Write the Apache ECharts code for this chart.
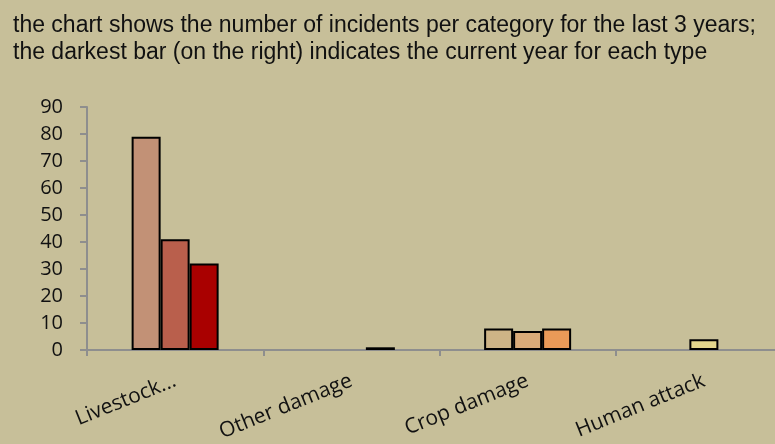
<!DOCTYPE html>
<html>
<head>
<meta charset="utf-8">
<script src="https://cdn.jsdelivr.net/npm/echarts@6/dist/echarts.min.js"></script>
<style>
html,body{margin:0;padding:0;background:#C7BF99;}
#chart{width:775px;height:444px;}
</style>
</head>
<body>
<div id="chart"></div>
<script>
// ---- data ----
var categories = ['Livestock...', 'Other damage', 'Crop damage', 'Human attack'];
var year1 = [79, null, 8, null];
var year2 = [41, null, 7, 4];
var year3 = [32, 1, 8, null];
var yTicks = [0, 10, 20, 30, 40, 50, 60, 70, 80, 90];

// ---- styles (per category colours for each year) ----
var colors1 = ['#C29176', '#C29176', '#CDB486', '#E3D68C'];
var colors2 = ['#B95F4C', '#B95F4C', '#D9AB79', '#E3D68C'];
var colors3 = ['#A90000', '#C04A2E', '#EA9A58', '#E3D68C'];

function items(vals, cols) {
  return vals.map(function (v, i) {
    return v == null ? '-' : { value: v, itemStyle: { color: cols[i] } };
  });
}

var chart = echarts.init(document.getElementById('chart'), null, { renderer: 'canvas' });
var barStyle = { borderColor: '#000', borderWidth: 2 };
var option = {
  backgroundColor: '#C7BF99',
  animation: false,
  title: {
    text: 'the chart shows the number of incidents per category for the last 3 years;\nthe darkest bar (on the right) indicates the current year for each type',
    left: 13, top: 12, padding: 0,
    textStyle: { fontFamily: 'Liberation Sans', fontSize: 23, fontWeight: 'normal', color: '#111', lineHeight: 27 }
  },
  grid: { left: 87, width: 705, top: 107, bottom: 94, containLabel: false, outerBoundsMode: 'none' },
  xAxis: {
    type: 'category',
    data: categories,
    axisLine: { lineStyle: { color: '#8E8E8E', width: 2 } },
    axisTick: { show: true, length: 6, lineStyle: { color: '#8E8E8E', width: 2 } },
    axisLabel: { rotate: 22, margin: 30, fontFamily: 'Open Sans', fontSize: 21, color: '#111', interval: 0 }
  },
  yAxis: {
    type: 'value',
    min: yTicks[0], max: yTicks[yTicks.length - 1], interval: 10,
    splitLine: { show: false },
    axisLine: { show: true, lineStyle: { color: '#8E8E8E', width: 2 } },
    axisTick: { show: true, length: 7, lineStyle: { color: '#8E8E8E', width: 2 } },
    axisLabel: { margin: 24, fontFamily: 'Open Sans', fontSize: 20, color: '#111' }
  },
  series: [
    { type: 'bar', data: items(year1, colors1), barWidth: 29, barGap: '0%', itemStyle: barStyle },
    { type: 'bar', data: items(year2, colors2), barWidth: 29, barGap: '0%', itemStyle: barStyle },
    { type: 'bar', data: items(year3, colors3), barWidth: 29, barGap: '0%', itemStyle: barStyle }
  ]
};
chart.setOption(option);
</script>
</body>
</html>
